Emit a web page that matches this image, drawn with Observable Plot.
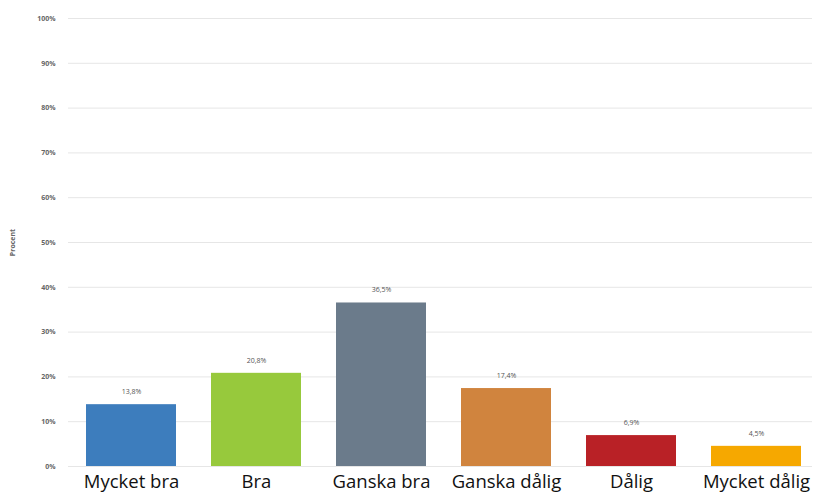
<!DOCTYPE html>
<html>
<head>
<meta charset="utf-8">
<script src="https://cdn.jsdelivr.net/npm/d3@7"></script>
<script src="https://cdn.jsdelivr.net/npm/@observablehq/plot@0.6"></script>
<style>
  html, body { margin: 0; padding: 0; background: #fff; }
  #chart svg { display: block; }
</style>
</head>
<body>
<div id="chart"></div>
<script>
const categories = ["Mycket bra", "Bra", "Ganska bra", "Ganska dålig", "Dålig", "Mycket dålig"];
const values = [13.8, 20.8, 36.5, 17.4, 6.9, 4.5];
const valueLabels = ["13,8%", "20,8%", "36,5%", "17,4%", "6,9%", "4,5%"];
const colors = ["#3d7dbd", "#97c93c", "#6b7b8b", "#d0843e", "#b92126", "#f6a800"];
const yTicks = [0, 10, 20, 30, 40, 50, 60, 70, 80, 90, 100];
const yTickLabels = ["0%", "10%", "20%", "30%", "40%", "50%", "60%", "70%", "80%", "90%", "100%"];

const data = categories.map((c, i) => ({cat: c, value: values[i], label: valueLabels[i]}));

const chart = Plot.plot({
  width: 814,
  height: 495,
  marginTop: 18,
  marginBottom: 29,
  marginLeft: 68,
  marginRight: 2,
  style: {background: "#fff", fontFamily: "'Open Sans', sans-serif"},
  x: {domain: categories, range: [68, 818], paddingInner: 0.28, paddingOuter: 0.136, label: null},
  y: {domain: [0, 100], label: null},
  color: {domain: categories, range: colors},
  marks: [
    Plot.ruleY(yTicks, {stroke: "#e6e6e6", strokeWidth: 1}),
    Plot.barY(data, {x: "cat", y: "value", fill: "cat"}),
    Plot.text(data, {x: "cat", y: "value", text: "label", dy: -13, fontSize: 7, fill: "#555"}),
    Plot.axisY(yTicks, {
      tickFormat: (d) => yTickLabels[yTicks.indexOf(d)],
      tickSize: 0, tickPadding: 13, fontSize: 7, fill: "#666", fontWeight: "bold",
      label: "Procent", labelAnchor: "center", labelArrow: "none", labelOffset: 58
    }),
    Plot.axisX({tickSize: 0, tickPadding: 8, fontSize: 18.5, fill: "#111", label: null})
  ]
});
document.getElementById("chart").appendChild(chart);
</script>
</body>
</html>
